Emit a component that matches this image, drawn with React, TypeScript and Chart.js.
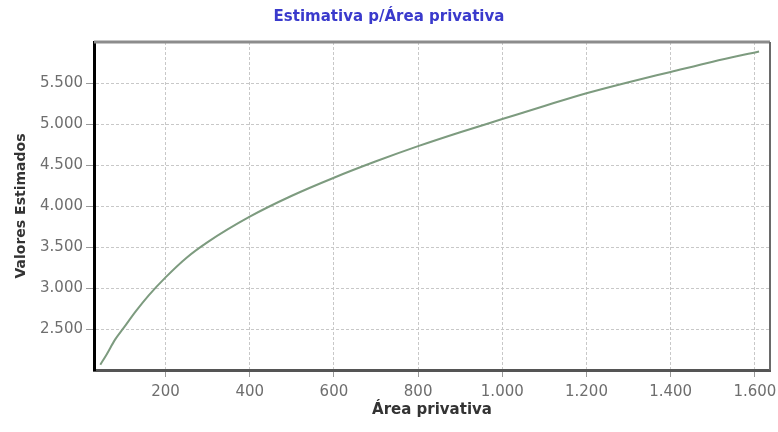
import React, { useEffect, useRef } from "react";
import { Chart, registerables } from "chart.js";

Chart.register(...registerables);

const chartTitle = "Estimativa p/Área privativa";
const xAxisTitle = "Área privativa";
const yAxisTitle = "Valores Estimados";

const areaPrivativa = [45, 60, 80, 100, 130, 160, 200, 250, 300, 400, 500, 600, 700, 800, 900, 1000, 1100, 1200, 1300, 1400, 1500, 1610];
const valoresEstimados = [2065, 2190, 2370, 2510, 2720, 2910, 3130, 3370, 3560, 3870, 4125, 4345, 4545, 4730, 4900, 5060, 5220, 5375, 5510, 5635, 5760, 5885];

const xTickValues = [200, 400, 600, 800, 1000, 1200, 1400, 1600];
const yTickValues = [2500, 3000, 3500, 4000, 4500, 5000, 5500];

const FONT = "'DejaVu Sans', sans-serif";

const fmt = (v: number) => {
  const s = Math.round(v).toString();
  return s.replace(/\B(?=(\d{3})+(?!\d))/g, ".");
};

const decorPlugin = {
  id: "decor",
  afterDraw(chart: any) {
    const { ctx, chartArea } = chart;
    const { left, right, top, bottom } = chartArea;
    ctx.save();
    // top border
    ctx.strokeStyle = "#8c8c8c";
    ctx.lineWidth = 3;
    ctx.beginPath();
    ctx.moveTo(left, top);
    ctx.lineTo(right, top);
    ctx.stroke();
    // right border
    ctx.strokeStyle = "#6a6a6a";
    ctx.lineWidth = 2;
    ctx.beginPath();
    ctx.moveTo(right, top);
    ctx.lineTo(right, bottom);
    ctx.stroke();

    // chart title
    ctx.fillStyle = "#3a3acc";
    ctx.font = `bold 15px ${FONT}`;
    ctx.textAlign = "center";
    ctx.textBaseline = "middle";
    ctx.fillText(chartTitle, chart.width / 2, 17);

    // x axis title
    ctx.fillStyle = "#333333";
    ctx.font = `bold 15px ${FONT}`;
    ctx.fillText(xAxisTitle, (left + right) / 2, 410);

    // y axis title
    ctx.font = `bold 14px ${FONT}`;
    ctx.translate(21, (top + bottom) / 2);
    ctx.rotate(-Math.PI / 2);
    ctx.fillText(yAxisTitle, 0, 0);
    ctx.restore();
  },
};

export default function App() {
  const ref = useRef<HTMLCanvasElement | null>(null);

  useEffect(() => {
    if (!ref.current) return;
    const chart = new Chart(ref.current, {
      type: "line",
      data: {
        datasets: [
          {
            data: areaPrivativa.map((x, i) => ({ x, y: valoresEstimados[i] })),
            borderColor: "#7d9b7f",
            borderWidth: 2,
            pointRadius: 0,
            cubicInterpolationMode: "monotone",
            fill: false,
          },
        ],
      },
      options: {
        animation: false,
        responsive: true,
        maintainAspectRatio: false,
        layout: { padding: { top: 42, right: 8, left: 0, bottom: 0 } },
        plugins: {
          legend: { display: false },
          tooltip: { enabled: false },
          title: { display: false },
        },
        scales: {
          x: {
            type: "linear",
            min: 30,
            max: 1636,
            afterBuildTicks: (scale: any) => {
              scale.ticks = xTickValues.map((v) => ({ value: v }));
            },
            afterFit: (scale: any) => {
              scale.height = 62;
              scale.paddingRight = 0;
              scale.paddingLeft = 0;
            },
            ticks: {
              callback: (v: any) => fmt(Number(v)),
              color: "#6e6e6e",
              font: { family: FONT, size: 15 },
              padding: 6,
              maxRotation: 0,
              autoSkip: false,
            },
            grid: {
              color: "#c8c8c8",
              lineWidth: 1,
              tickLength: 7,
              tickColor: "#9a9a9a",
            },
            border: { display: true, color: "#555555", width: 3, dash: [3, 2] },
          },
          y: {
            type: "linear",
            min: 2000,
            max: 6000,
            afterBuildTicks: (scale: any) => {
              scale.ticks = yTickValues.map((v) => ({ value: v }));
            },
            afterFit: (scale: any) => {
              scale.width = 94;
            },
            ticks: {
              callback: (v: any) => fmt(Number(v)),
              color: "#6e6e6e",
              font: { family: FONT, size: 15 },
              padding: 3,
              autoSkip: false,
            },
            grid: {
              color: "#c8c8c8",
              lineWidth: 1,
              tickLength: 8,
              tickColor: "#9a9a9a",
            },
            border: { display: true, color: "#000000", width: 3, dash: [3, 2] },
          },
        },
      },
      plugins: [decorPlugin],
    } as any);
    return () => chart.destroy();
  }, []);

  return (
    <div style={{ position: "fixed", left: 0, top: 0, width: 778, height: 432, background: "#ffffff" }}>
      <canvas ref={ref} />
    </div>
  );
}
